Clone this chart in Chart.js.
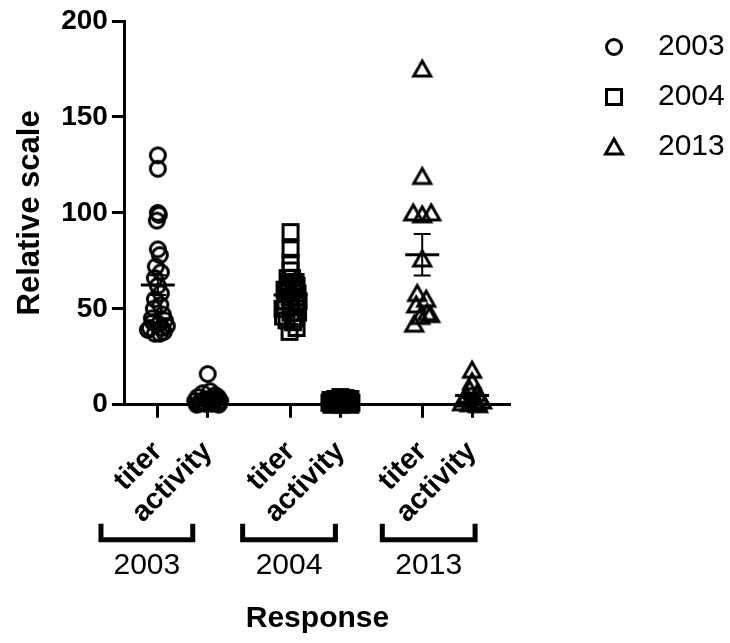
<!DOCTYPE html>
<html>
<head>
<meta charset="utf-8">
<script src="https://cdn.jsdelivr.net/npm/chart.js@4.4.1/dist/chart.umd.min.js"></script>
<style>
  html, body { margin: 0; padding: 0; background: #fff; }
  #chart { display: block; }
</style>
</head>
<body>
<canvas id="chart" width="730" height="643"></canvas>
<script>
const years = ["2003", "2004", "2013"];
const xTickLabels = ["titer", "activity", "titer", "activity", "titer", "activity"];
// column centres on the x axis (titer / activity for each year)
const xPositions = [0.66, 1.66, 3.32, 4.32, 5.96, 6.96];
const yTicks = [0, 50, 100, 150, 200];

// values, with the small sideways spread of each dot
const titer2003 = [130, 123, 100, 99, 96, 81, 78, 72, 69, 66, 62, 58, 55, 52, 50, 47, 45, 44, 43, 42, 41, 40, 40, 39, 38, 37, 37];
const titer2003Spread = [0, 0, 0, 0.02, -0.02, 0, 0.04, -0.04, 0.06, -0.06, 0, 0.06, -0.06, 0.05, -0.08, 0.1, -0.12, 0.14, -0.1, 0.02, 0.18, -0.16, 0.08, -0.2, 0.12, -0.06, 0.04];
const activity2003 = [16, 7, 6, 5, 4, 4, 3, 3, 2, 2, 2, 1.5, 1, 1, 0.5, 0.5, 0, 0, 1, 3, 2, 0.5];
const activity2003Spread = [0, 0.05, -0.1, 0.15, -0.2, 0.2, -0.05, 0.1, -0.25, 0.25, 0, 0.12, -0.15, 0.2, -0.05, 0.08, 0.22, -0.22, -0.1, 0.18, 0.05, -0.18];

const titer2004 = [90, 81, 74, 70, 66, 64, 63, 61, 60, 58, 56, 54, 52, 50, 48, 46, 45, 44, 43, 40, 38, 62, 52, 60, 54, 66, 48, 64, 50, 58, 56];
const titer2004Spread = [0, 0, 0, 0, 0.03, -0.03, 0.05, -0.05, 0.08, -0.08, 0.1, -0.1, 0.12, -0.12, 0.15, -0.15, 0.1, -0.08, 0.05, 0.12, -0.02, 0.12, 0.02, -0.12, 0.16, -0.06, 0, 0.1, -0.16, 0.14, -0.02];
const activity2004 = [4, 3.5, 3, 3, 2.5, 2, 2, 1.5, 1, 1, 0.5, 0.5, 0, 0, 2, 1, 3, 0];
const activity2004Spread = [0, 0.1, -0.1, 0.2, -0.2, 0.15, -0.15, 0.05, 0.22, -0.22, 0.12, -0.12, 0.2, -0.18, 0.02, -0.05, 0.08, 0];

const titer2013 = [175, 119, 100, 99, 100, 76, 58, 55, 52, 48, 47, 46, 42];
const titer2013Spread = [0, 0, -0.18, 0, 0.18, 0, -0.1, 0.08, -0.12, 0.1, 0.16, -0.04, -0.16];
const activity2013 = [18, 12, 8, 6, 5, 4, 3, 2, 2, 1, 1, 0.5, 0];
const activity2013Spread = [0, 0, -0.05, 0.1, -0.12, 0.15, -0.15, 0.05, 0.2, -0.2, 0.1, -0.05, 0.12];

Chart.defaults.font.family = "'Liberation Sans', Arial, sans-serif";
Chart.defaults.color = "#000";

// hollow Prism-style symbols
function makeMarker(shape) {
  const c = document.createElement("canvas");
  c.width = 24;
  c.height = 24;
  const g = c.getContext("2d");
  g.strokeStyle = "#000";
  g.lineWidth = 3;
  g.lineJoin = "miter";
  g.beginPath();
  if (shape === "circle") {
    g.arc(12, 12, 7.5, 0, Math.PI * 2);
  } else if (shape === "square") {
    g.rect(4.5, 4.5, 15, 15);
  } else {
    g.moveTo(12, 4);
    g.lineTo(20.5, 19);
    g.lineTo(3.5, 19);
    g.closePath();
  }
  g.stroke();
  return c;
}

function toPoints(values, spread, x) {
  return values.map((v, i) => ({ x: x + spread[i], y: v }));
}

const columns = [
  { values: titer2003, x: xPositions[0] },
  { values: activity2003, x: xPositions[1] },
  { values: titer2004, x: xPositions[2] },
  { values: activity2004, x: xPositions[3] },
  { values: titer2013, x: xPositions[4] },
  { values: activity2013, x: xPositions[5] },
];

// ▼ mean line with SEM whiskers on each column
const meanBars = {
  id: "meanBars",
  afterDatasetsDraw(chart) {
    const { ctx, scales } = chart;
    const xs = scales.x;
    const ys = scales.y;
    ctx.save();
    ctx.strokeStyle = "#000";
    columns.forEach((col) => {
      const n = col.values.length;
      const mean = col.values.reduce((a, b) => a + b, 0) / n;
      const sd = Math.sqrt(col.values.reduce((a, b) => a + (b - mean) ** 2, 0) / (n - 1));
      const sem = sd / Math.sqrt(n);
      const px = xs.getPixelForValue(col.x);
      const pm = ys.getPixelForValue(mean);
      const pt = ys.getPixelForValue(mean + sem);
      const pb = ys.getPixelForValue(Math.max(0, mean - sem));
      ctx.lineWidth = 2;
      ctx.beginPath();
      ctx.moveTo(px, pt);
      ctx.lineTo(px, pb);
      ctx.moveTo(px - 8.5, pt);
      ctx.lineTo(px + 8.5, pt);
      ctx.moveTo(px - 8.5, pb);
      ctx.lineTo(px + 8.5, pb);
      ctx.stroke();
      ctx.lineWidth = 3;
      ctx.beginPath();
      ctx.moveTo(px - 17, pm);
      ctx.lineTo(px + 17, pm);
      ctx.stroke();
    });
    ctx.restore();
  },
};

// ▼ year brackets under the rotated labels
const bracketSpans = [[-0.48, 1.36], [2.36, 4.22], [5.16, 7.02]];
const groupBrackets = {
  id: "groupBrackets",
  afterDraw(chart) {
    const { ctx, chartArea } = chart;
    const xs = chart.scales.x;
    const top = chartArea.bottom + 119;
    const bottom = chartArea.bottom + 135;
    ctx.save();
    ctx.strokeStyle = "#000";
    ctx.fillStyle = "#000";
    ctx.lineWidth = 5;
    ctx.lineJoin = "miter";
    ctx.font = "30px 'Liberation Sans', Arial, sans-serif";
    ctx.textAlign = "center";
    ctx.textBaseline = "middle";
    years.forEach((yr, i) => {
      const l = xs.getPixelForValue(bracketSpans[i][0]);
      const r = xs.getPixelForValue(bracketSpans[i][1]);
      ctx.beginPath();
      ctx.moveTo(l, top);
      ctx.lineTo(l, bottom);
      ctx.lineTo(r, bottom);
      ctx.lineTo(r, top);
      ctx.stroke();
      ctx.fillText(yr, (l + r) / 2, chartArea.bottom + 161);
    });
    ctx.restore();
  },
};

new Chart(document.getElementById("chart"), {
  type: "scatter",
  data: {
    datasets: [
      {
        label: years[0],
        data: [...toPoints(titer2003, titer2003Spread, xPositions[0]), ...toPoints(activity2003, activity2003Spread, xPositions[1])],
        pointStyle: makeMarker("circle"),
        clip: false,
      },
      {
        label: years[1],
        data: [...toPoints(titer2004, titer2004Spread, xPositions[2]), ...toPoints(activity2004, activity2004Spread, xPositions[3])],
        pointStyle: makeMarker("square"),
        clip: false,
      },
      {
        label: years[2],
        data: [...toPoints(titer2013, titer2013Spread, xPositions[4]), ...toPoints(activity2013, activity2013Spread, xPositions[5])],
        pointStyle: makeMarker("triangle"),
        clip: false,
      },
    ],
  },
  options: {
    responsive: false,
    animation: false,
    events: [],
    layout: { padding: { top: 0, left: 12, right: 2, bottom: 0 } },
    plugins: {
      tooltip: { enabled: false },
      legend: {
        position: "right",
        align: "start",
        maxWidth: 163,
        title: { display: true, text: " ", font: { size: 10 }, padding: 0 },
        labels: {
          usePointStyle: true,
          pointStyleWidth: 58,
          padding: 20,
          font: { size: 30 },
          color: "#000",
        },
      },
    },
    scales: {
      x: {
        type: "linear",
        min: 0,
        max: 7.72,
        afterBuildTicks: (axis) => {
          axis.ticks = xPositions.map((v) => ({ value: v }));
        },
        ticks: {
          autoSkip: false,
          maxRotation: 45,
          minRotation: 45,
          padding: 17,
          font: { size: 29, weight: "bold" },
          callback: (value, index) => xTickLabels[index],
        },
        grid: { display: true, drawOnChartArea: false, tickLength: 13, tickWidth: 3, tickColor: "#000" },
        border: { display: true, width: 3, color: "#000" },
        title: {
          display: true,
          text: "Response",
          font: { size: 30, weight: "bold" },
          padding: { top: 54, bottom: 6 },
        },
      },
      y: {
        min: 0,
        max: 200,
        afterBuildTicks: (axis) => {
          axis.ticks = yTicks.map((v) => ({ value: v }));
        },
        ticks: {
          padding: 4,
          font: { size: 28, weight: "bold", lineHeight: 1.22 },
        },
        grid: { display: true, drawOnChartArea: false, tickLength: 13, tickWidth: 3, tickColor: "#000" },
        border: { display: true, width: 3, color: "#000" },
        title: {
          display: true,
          text: "Relative scale",
          font: { size: 31, weight: "bold" },
          padding: { top: 0, bottom: 8 },
        },
      },
      gap: {
        axis: "y",
        position: "right",
        display: true,
        grid: { display: false },
        ticks: { display: false },
        border: { display: false },
        afterFit: (s) => {
          s.width = 55;
        },
      },
    },
    elements: {
      point: { radius: 9, borderColor: "#000", backgroundColor: "rgba(0,0,0,0)" },
    },
  },
  plugins: [meanBars, groupBrackets],
});
</script>
</body>
</html>
